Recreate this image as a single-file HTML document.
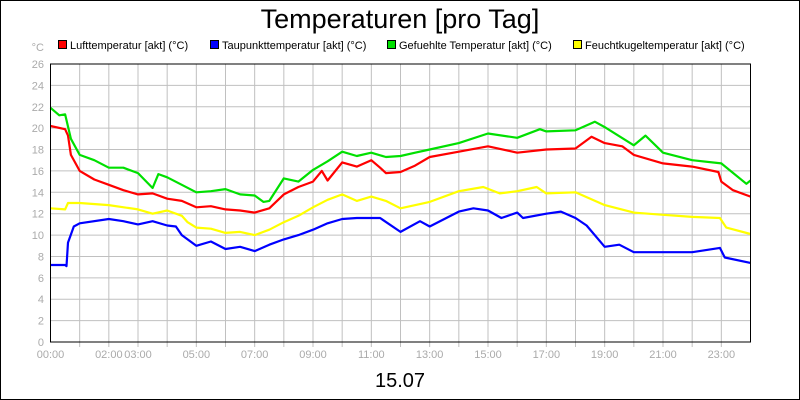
<!DOCTYPE html>
<html><head><meta charset="utf-8"><style>
body{margin:0;background:#fff}
svg{display:block;font-family:"Liberation Sans",sans-serif}
</style></head><body>
<svg id="chart" width="800" height="400">
<rect x="0.5" y="0.5" width="799" height="399" fill="#fff" stroke="#000"/>
<text x="400" y="28" text-anchor="middle" font-size="27">Temperaturen [pro Tag]</text>
<text x="44" y="51" text-anchor="end" font-size="11" fill="#aaa">°C</text>
<g id="grid"></g>
<g id="series"></g>
<rect x="50.5" y="64" width="700" height="278" fill="none" stroke="#000"/>
<g id="legend"></g>
<text x="400" y="387" text-anchor="middle" font-size="20">15.07</text>
</svg>
<script>
const yTicks=[0,2,4,6,8,10,12,14,16,18,20,22,24,26];
const xTickLabels=["00:00","02:00","03:00","05:00","07:00","09:00","11:00","13:00","15:00","17:00","19:00","21:00","23:00"];
const xTickHours=[0,2,3,5,7,9,11,13,15,17,19,21,23];
const seriesNames=["Lufttemperatur [akt] (°C)","Taupunkttemperatur [akt] (°C)","Gefuehlte Temperatur [akt] (°C)","Feuchtkugeltemperatur [akt] (°C)"];
const seriesColors=["#ff0000","#0000ff","#00e000","#ffff00"];
const redT=[0,0.5,0.6,0.7,1,1.5,2,2.5,3,3.5,4,4.5,5,5.5,6,6.5,7,7.5,8,8.5,9,9.3,9.5,10,10.5,11,11.3,11.5,12,12.5,13,14,15,16,17,18,18.55,19,19.6,20,21,22,22.9,23,23.4,24];
const redV=[20.2,19.9,19.3,17.5,16.0,15.2,14.7,14.2,13.8,13.9,13.4,13.2,12.6,12.7,12.4,12.3,12.1,12.5,13.8,14.5,15.0,16.0,15.1,16.8,16.4,17.0,16.3,15.8,15.9,16.5,17.3,17.8,18.3,17.7,18.0,18.1,19.2,18.6,18.3,17.5,16.7,16.4,15.9,15.0,14.2,13.6];
const blueT=[0,0.5,0.55,0.6,0.8,1,2,2.5,3,3.5,4,4.3,4.5,5,5.5,6,6.5,7,7.5,8,8.5,9,9.5,10,10.5,11,11.3,12,12.67,13,14,14.5,15,15.46,16,16.2,17,17.5,18,18.38,19,19.5,20,21,22,22.95,23.12,24];
const blueV=[7.2,7.2,7.1,9.3,10.8,11.1,11.5,11.3,11.0,11.3,10.9,10.8,10.0,9.0,9.4,8.7,8.9,8.5,9.1,9.6,10.0,10.5,11.1,11.5,11.6,11.6,11.6,10.3,11.3,10.8,12.2,12.5,12.3,11.6,12.1,11.6,12.0,12.2,11.6,10.9,8.9,9.1,8.4,8.4,8.4,8.8,7.9,7.4];
const greenT=[0,0.3,0.5,0.7,1,1.5,2,2.5,3,3.5,3.7,4,4.5,5,5.5,6,6.5,7,7.3,7.5,8,8.5,9,9.5,10,10.5,11,11.5,12,12.5,13,14,15,16,16.78,17,18,18.66,19,20,20.4,21,22,23,23.86,24];
const greenV=[21.9,21.2,21.3,19.0,17.5,17.0,16.3,16.3,15.8,14.4,15.7,15.4,14.7,14.0,14.1,14.3,13.8,13.7,13.1,13.2,15.3,15.0,16.1,16.9,17.8,17.4,17.7,17.3,17.4,17.7,18.0,18.6,19.5,19.1,19.9,19.7,19.8,20.6,20.1,18.4,19.3,17.7,17.0,16.7,14.8,15.1];
const yellowT=[0,0.5,0.6,1,2,3,3.5,4,4.5,4.7,5,5.5,6,6.5,7,7.5,8,8.5,9,9.5,10,10.5,11,11.5,12,13,14,14.84,15.4,16,16.67,17,18,19,20,21,22,22.95,23.17,24];
const yellowV=[12.5,12.4,13.0,13.0,12.8,12.4,12.0,12.3,11.8,11.2,10.7,10.6,10.2,10.3,10.0,10.5,11.2,11.8,12.6,13.3,13.8,13.2,13.6,13.2,12.5,13.1,14.1,14.5,13.9,14.1,14.5,13.9,14.0,12.8,12.1,11.9,11.7,11.6,10.7,10.1];
const NS="http://www.w3.org/2000/svg";
const X0=50.5,X1=750.5,Y0=342,Y1=64,VMAX=26;
function xs(h){return X0+(X1-X0)*h/24;}
function ys(v){return Y0-(Y0-Y1)*v/VMAX;}
function mk(tag,attrs,parent){const e=document.createElementNS(NS,tag);for(const k in attrs)e.setAttribute(k,attrs[k]);parent.appendChild(e);return e;}
const grid=document.getElementById('grid');
yTicks.forEach(v=>{
  const l=mk('line',{x1:X0,x2:X1,y1:ys(v),y2:ys(v),stroke:'#c0c0c0'},grid);
  
  
  const t=mk('text',{x:44,y:ys(v)+4,'text-anchor':'end','font-size':11,fill:'#aaa'},grid);
  t.textContent=v;
  
  
});
for(let h=1;h<24;h++){
  const l=mk('line',{x1:xs(h),x2:xs(h),y1:Y1,y2:Y0+5,stroke:'#c0c0c0'},grid);
  
  
}
xTickHours.forEach((h,i)=>{
  const t=mk('text',{x:xs(h),y:358,'text-anchor':'middle','font-size':11,fill:'#aaa'},grid);
  t.textContent=xTickLabels[i];
  
  
});
const sg=document.getElementById('series');
const data=[[redT,redV],[blueT,blueV],[greenT,greenV],[yellowT,yellowV]];
const order=[3,1,0,2];
order.forEach(i=>{
  const [T,V]=data[i];
  const pts=T.map((t,j)=>xs(t).toFixed(1)+','+ys(V[j]).toFixed(1)).join(' ');
  const p=mk('polyline',{points:pts,fill:'none',stroke:seriesColors[i],'stroke-width':2.2,'stroke-linejoin':'round'},sg);
  
  
});
const lg=document.getElementById('legend');
const lx=[58,210,387,573];
seriesNames.forEach((n,i)=>{
  const r=mk('rect',{x:lx[i]+0.5,y:40.5,width:8,height:8,fill:seriesColors[i],stroke:'#000'},lg);
  
  
  const t=mk('text',{x:lx[i]+12,y:49,'font-size':11,fill:'#000'},lg);
  t.textContent=n;
  
  
});
</script>
</body></html>
